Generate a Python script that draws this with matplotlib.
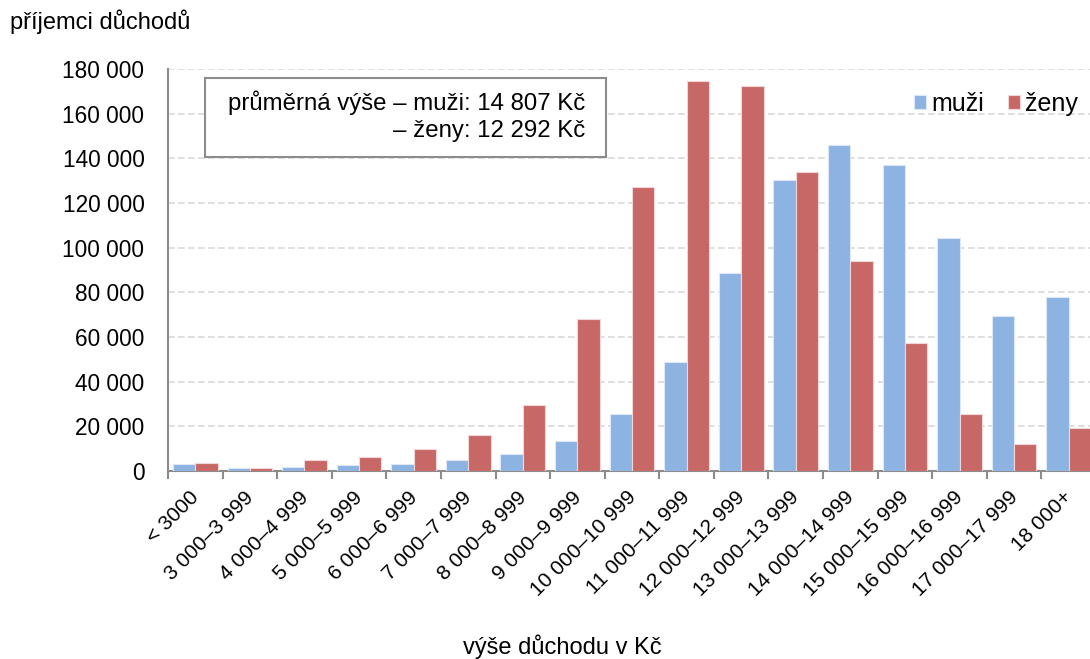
import matplotlib

matplotlib.use("Agg")
import matplotlib.pyplot as plt
import matplotlib.transforms as mtransforms
from matplotlib.patches import Rectangle
import numpy as np

plt.rcParams['font.family'] = ['Liberation Sans', 'DejaVu Sans']

# Data
categories = ['< 3000', '3 000–3 999', '4 000–4 999', '5 000–5 999',
              '6 000–6 999', '7 000–7 999', '8 000–8 999', '9 000–9 999',
              '10 000–10 999', '11 000–11 999', '12 000–12 999',
              '13 000–13 999', '14 000–14 999', '15 000–15 999',
              '16 000–16 999', '17 000–17 999', '18 000+']
muzi = [3000, 1500, 2000, 2500, 3300, 5000, 7500, 13500, 25500, 49000,
        88700, 130300, 146000, 137000, 104300, 69400, 77900]
zeny = [3500, 1200, 5000, 6300, 10000, 16000, 29500, 68000, 127000, 174600,
        172400, 133900, 94000, 57300, 25500, 12100, 19300]
yticks = np.arange(0, 180001, 20000)

blue = '#8db3e2'
red = '#c86866'
grey = '#8c8c8c'

W, H = 1090, 659
fig = plt.figure(figsize=(10.9, 6.59), dpi=100)
ax = fig.add_axes([168 / W, 1 - 471 / H, 928 / W, 402 / H])

x = np.arange(len(categories))
w = 0.41
ax.bar(x - w / 2, muzi, w, color=blue, edgecolor='#dce8f6', linewidth=0.8,
       label='muži', zorder=3)
ax.bar(x + w / 2, zeny, w, color=red, edgecolor='#f0d6d6', linewidth=0.8,
       label='ženy', zorder=3)

ax.set_xlim(-0.5, len(categories) - 0.5)
ax.set_ylim(0, 180000)
ax.set_yticks(yticks)
ax.set_yticklabels([f'{v:,}'.replace(',', ' ') for v in yticks], fontsize=16.3)
ax.tick_params(axis='y', length=0, pad=17)
ax.yaxis.grid(True, color='#d9d9d9', linestyle=(0, (4, 2)), linewidth=1.2, zorder=0)

# category ticks sit between groups
ax.set_xticks(np.arange(len(categories) + 1) - 0.5)
ax.set_xticklabels([])
ax.tick_params(axis='x', which='major', length=6, width=1.5, color=grey,
               direction='out')
ax.set_xticks(x, minor=True)
ax.set_xticklabels(categories, minor=True, rotation=45, ha='right',
                   rotation_mode='anchor', fontsize=15)
ax.tick_params(axis='x', which='minor', length=0, pad=12)
shift = mtransforms.ScaledTranslation(-6 / 100, 0, fig.dpi_scale_trans)
for lab in ax.get_xticklabels(minor=True):
    lab.set_transform(lab.get_transform() + shift)

for s in ['top', 'right']:
    ax.spines[s].set_visible(False)
for s in ['left', 'bottom']:
    ax.spines[s].set_color(grey)
    ax.spines[s].set_linewidth(1.5)

leg = ax.legend(loc='upper right', bbox_to_anchor=(0.997, 0.98), ncol=2,
                frameon=False, fontsize=18, handlelength=0.5, handleheight=0.5,
                handletextpad=0.2, columnspacing=0.95, borderaxespad=0.2)

# info box with average pensions
fig.patches.append(Rectangle((205 / W, 1 - 157 / H), 401 / W, 79 / H,
                             transform=fig.transFigure, facecolor='white',
                             edgecolor=grey, linewidth=1.5, zorder=5))
fig.text(585 / W, 1 - 103 / H, 'průměrná výše – muži: 14 807 Kč',
         ha='right', va='center', fontsize=17.3, zorder=6)
fig.text(585 / W, 1 - 131 / H, '– ženy: 12 292 Kč',
         ha='right', va='center', fontsize=17.3, zorder=6)

fig.text(10 / W, 1 - 22 / H, 'příjemci důchodů', fontsize=17,
         ha='left', va='center')
fig.text(562 / W, 1 - 647 / H, 'výše důchodu v Kč', fontsize=17,
         ha='center', va='center')

plt.savefig("out.png", dpi=100)
